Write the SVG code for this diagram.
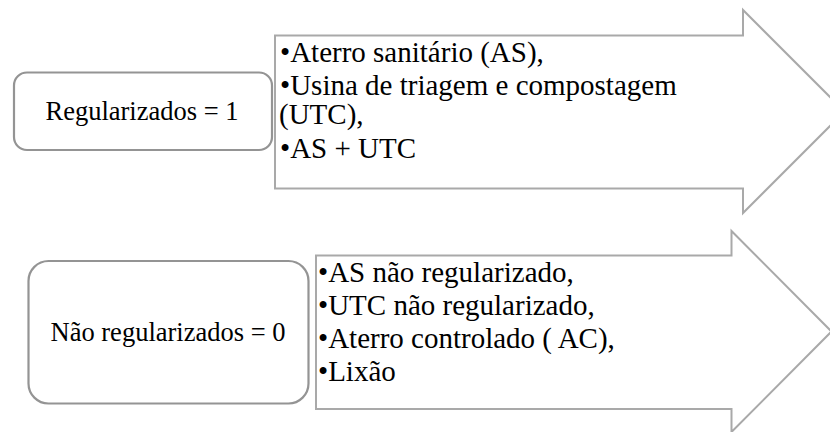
<svg xmlns="http://www.w3.org/2000/svg" width="830" height="432" viewBox="0 0 830 432">
<style>
.box{fill:#ffffff;stroke:#949494;stroke-width:2.2}
.arrow{fill:#ffffff;stroke:#a9a9a9;stroke-width:2}
.lbl{font-size:26.5px;fill:#000000;text-anchor:middle}
.lst{font-size:29px;fill:#000000}
</style>
<rect width="830" height="432" fill="#ffffff"/>
<g id="arrow-regularizados" font-family="Liberation Serif, DejaVu Serif, serif">
<polygon class="arrow" points="275,35.5 743,35.5 743,10 844.5,111.5 743,213 743,188.5 275,188.5"/>
<text class="lst" x="280" y="61.5">•Aterro sanitário (AS),</text>
<text class="lst" x="280" y="94.5">•Usina de triagem e compostagem</text>
<text class="lst" x="279" y="123.5">(UTC),</text>
<text class="lst" x="280" y="158">•AS + UTC</text>
</g>
<g id="node-regularizados" font-family="Liberation Serif, DejaVu Serif, serif">
<rect class="box" x="14" y="72.5" width="258" height="77.5" rx="13" ry="13"/>
<text class="lbl" x="142" y="120">Regularizados = 1</text>
</g>
<g id="arrow-nao-regularizados" font-family="Liberation Serif, DejaVu Serif, serif">
<polygon class="arrow" points="316,255.5 731.5,255.5 731.5,231 831.5,331.5 731.5,432 731.5,409 316,409"/>
<text class="lst" x="318" y="281.5">•AS não regularizado,</text>
<text class="lst" x="318" y="314.5">•UTC não regularizado,</text>
<text class="lst" x="318" y="347.5">•Aterro controlado ( AC),</text>
<text class="lst" x="318" y="380.5">•Lixão</text>
</g>
<g id="node-nao-regularizados" font-family="Liberation Serif, DejaVu Serif, serif">
<rect class="box" x="28.5" y="261" width="280" height="142.5" rx="20" ry="20"/>
<text class="lbl" x="168" y="341">Não regularizados = 0</text>
</g>
</svg>
